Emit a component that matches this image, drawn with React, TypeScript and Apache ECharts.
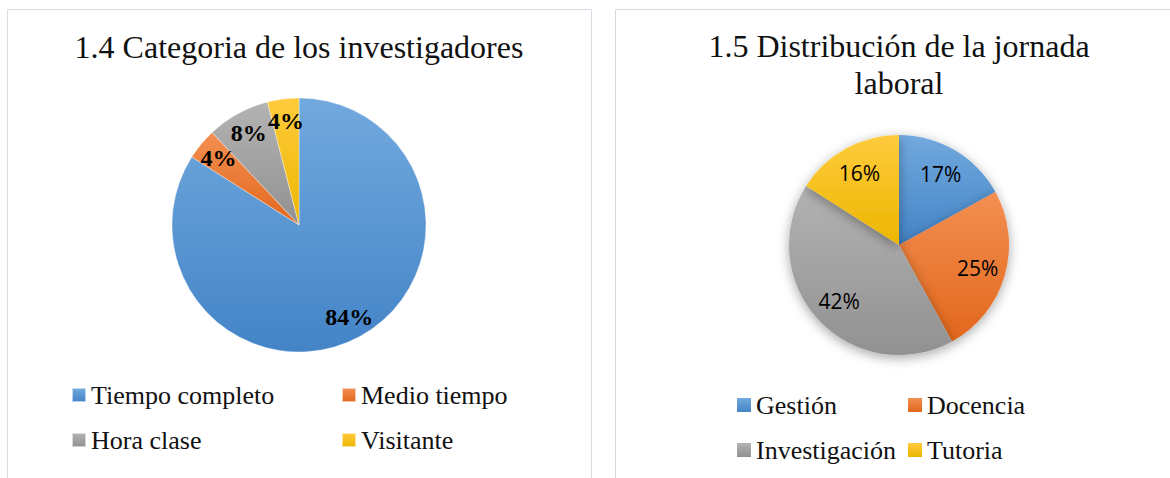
import React, { useEffect, useRef } from 'react';
import * as echarts from 'echarts';

const leftTitle = '1.4 Categoria de los investigadores';
const leftCategories = ['Tiempo completo', 'Medio tiempo', 'Hora clase', 'Visitante'];
const leftValues = [84, 4, 8, 4];

const rightTitleLines = ['1.5 Distribución de la jornada', 'laboral'];
const rightCategories = ['Gestión', 'Docencia', 'Investigación', 'Tutoria'];
const rightValues = [17, 25, 42, 16];

const palette: [string, string][] = [
  ['#72A9DE', '#4384C7'],
  ['#F38F52', '#E2671C'],
  ['#B3B3B3', '#919191'],
  ['#FFCB3D', '#EDB600'],
];

const SERIF = 'Liberation Serif';
const SANS = 'Open Sans';

function grad(i: number) {
  const [a, b] = palette[i % palette.length];
  return new echarts.graphic.LinearGradient(0, 0, 0, 1, [
    { offset: 0, color: a },
    { offset: 1, color: b },
  ]);
}

function makeData(cats: string[], vals: number[]) {
  return cats.map((name, i) => ({ name, value: vals[i], itemStyle: { color: grad(i) } }));
}

function plainData(cats: string[], vals: number[]) {
  return cats.map((name, i) => ({ name, value: vals[i] }));
}

export default function App() {
  const ref = useRef<HTMLDivElement>(null);

  useEffect(() => {
    if (!ref.current) return;
    const chart = echarts.init(ref.current, undefined, { renderer: 'svg' });

    const legendBase = {
      orient: 'vertical' as const,
      icon: 'rect',
      itemWidth: 14,
      itemHeight: 14,
      itemGap: 19,
      padding: 0,
      selectedMode: false,
      textStyle: { fontFamily: SERIF, fontSize: 26, lineHeight: 26, color: '#111' },
    };

    const titleStyle = (text: string) => ({
      text,
      fontFamily: SERIF,
      fontSize: 32,
      fill: '#111',
      textAlign: 'center',
      textVerticalAlign: 'middle',
    });

    const option: any = {
      animation: false,
      backgroundColor: '#ffffff',
      graphic: [
        {
          type: 'rect',
          shape: { x: 7.5, y: 9.5, width: 584, height: 490 },
          style: { fill: 'none', stroke: '#d9dde5', lineWidth: 1 },
          silent: true,
          z: -1,
        },
        {
          type: 'rect',
          shape: { x: 615.5, y: 9.5, width: 580, height: 490 },
          style: { fill: 'none', stroke: '#d9d9d9', lineWidth: 1 },
          silent: true,
          z: -1,
        },
        { type: 'text', x: 299, y: 47, style: titleStyle(leftTitle) },
        { type: 'text', x: 899, y: 46, style: titleStyle(rightTitleLines[0]) },
        { type: 'text', x: 899, y: 83, style: titleStyle(rightTitleLines[1]) },
      ],
      legend: [
        { ...legendBase, left: 71, top: 382, data: [leftCategories[0], leftCategories[2]] },
        { ...legendBase, left: 341, top: 382, data: [leftCategories[1], leftCategories[3]] },
        { ...legendBase, left: 737, top: 392, data: [rightCategories[0], rightCategories[2]] },
        { ...legendBase, left: 908, top: 392, data: [rightCategories[1], rightCategories[3]] },
      ],
      series: [
        {
          type: 'pie',
          center: [299, 225],
          radius: 127,
          startAngle: 90,
          clockwise: true,
          avoidLabelOverlap: false,
          label: { show: false },
          labelLine: { show: false },
          emphasis: { disabled: true },
          itemStyle: { borderColor: 'rgba(255,255,255,0.6)', borderWidth: 0.6 },
          data: makeData(leftCategories, leftValues),
        },
        {
          type: 'pie',
          center: [899, 245],
          radius: 110,
          startAngle: 90,
          clockwise: true,
          avoidLabelOverlap: false,
          label: { show: false },
          labelLine: { show: false },
          emphasis: { disabled: true },
          itemStyle: {
            shadowBlur: 12,
            shadowColor: 'rgba(0,0,0,0.35)',
            shadowOffsetY: 3,
          },
          data: makeData(rightCategories, rightValues),
        },
        {
          type: 'pie',
          center: [299, 225],
          radius: [76, 127],
          startAngle: 90,
          clockwise: true,
          silent: true,
          avoidLabelOverlap: false,
          legendHoverLink: false,
          itemStyle: { color: 'rgba(0,0,0,0)' },
          label: {
            show: true,
            position: 'inside',
            formatter: '{c}%',
            fontFamily: SERIF,
            fontWeight: 'bold',
            fontSize: 24,
            color: '#000',
          },
          labelLine: { show: false },
          emphasis: { disabled: true },
          data: plainData(leftCategories, leftValues),
        },
        {
          type: 'pie',
          center: [899, 245],
          radius: [48, 110],
          startAngle: 90,
          clockwise: true,
          silent: true,
          avoidLabelOverlap: false,
          legendHoverLink: false,
          itemStyle: { color: 'rgba(0,0,0,0)' },
          label: {
            show: true,
            position: 'inside',
            formatter: '{c}%',
            fontFamily: SANS,
            fontSize: 21,
            color: '#000',
          },
          labelLine: { show: false },
          emphasis: { disabled: true },
          data: plainData(rightCategories, rightValues),
        },
      ],
    };

    chart.setOption(option);
    return () => chart.dispose();
  }, []);

  return (
    <div
      ref={ref}
      style={{ position: 'absolute', left: 0, top: 0, width: 1170, height: 478 }}
    />
  );
}
